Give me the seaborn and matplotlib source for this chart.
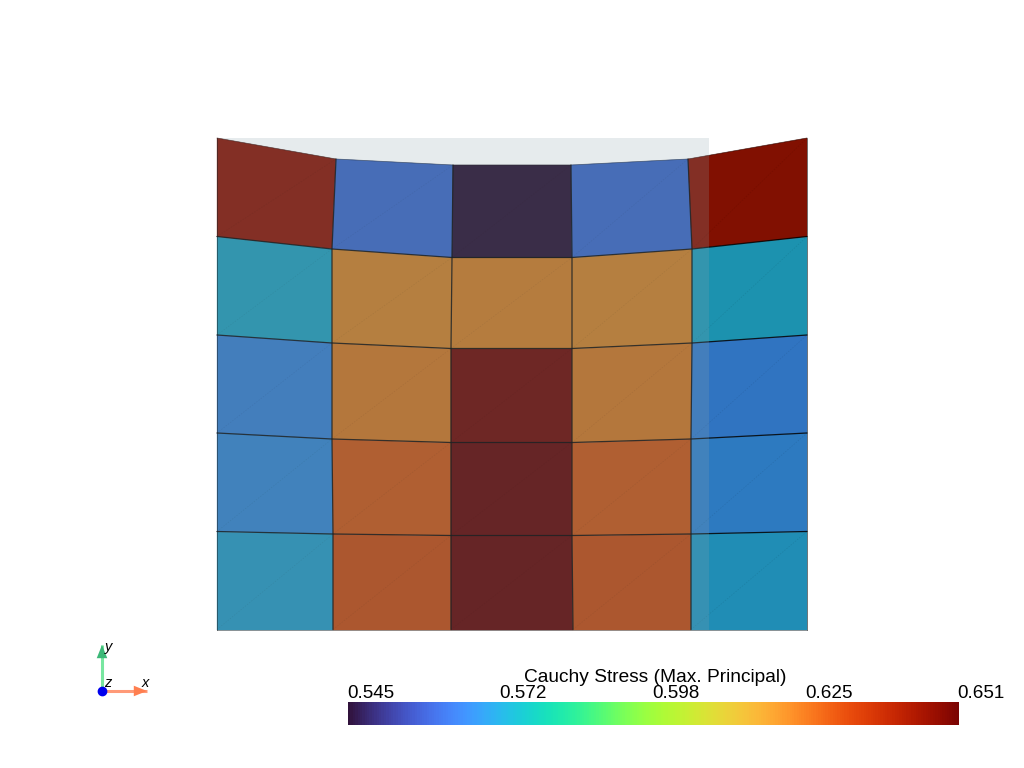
import numpy as np
import matplotlib
matplotlib.use("Agg")
import matplotlib.pyplot as plt
from matplotlib.colors import ListedColormap
import seaborn as sns

# Mesh node positions, one row per node layer from the top surface down
node_x = [
    [217, 336, 453, 571, 688, 807],
    [217, 332, 452, 572, 692, 807],
    [217, 332, 451, 572, 692, 807],
    [217, 332, 451, 572, 691, 807],
    [217, 333, 451, 572, 691, 807],
    [217, 333, 451, 573, 691, 807],
]
node_y = [
    [138, 159, 165, 165, 159, 138],
    [236.5, 249, 257.5, 257.5, 249, 236.5],
    [335, 343, 348.5, 348.5, 343, 335],
    [433, 439, 442.5, 442.5, 439, 433],
    [531.5, 534, 535.5, 535.5, 534, 531.5],
    [629.5, 629.5, 629.5, 629.5, 629.5, 629.5],
]

# Max. principal Cauchy stress per element
cell_stress = [
    [0.6445, 0.5615, 0.5450, 0.5615, 0.6445],
    [0.5725, 0.6205, 0.6215, 0.6205, 0.5725],
    [0.5660, 0.6225, 0.6490, 0.6225, 0.5660],
    [0.5670, 0.6280, 0.6510, 0.6280, 0.5670],
    [0.5712, 0.6302, 0.6510, 0.6302, 0.5712],
]

stress_min, stress_max = 0.545, 0.651
tick_labels = ["0.545", "0.572", "0.598", "0.625", "0.651"]
bar_title = "Cauchy Stress (Max. Principal)"

surface_light = 0.76
plane_rect = (217, 138, 492, 492)
plane_rgb = (140 / 255, 164 / 255, 174 / 255)
plane_alpha = 0.21

sns.set_theme(style="white")
plt.rcParams["font.family"] = ["Liberation Sans", "DejaVu Sans"]

turbo = sns.color_palette("turbo", as_cmap=True)
samples = turbo(np.linspace(0, 1, 256))
samples[:, :3] *= surface_light
lit_turbo = ListedColormap(samples)

fig = plt.figure(figsize=(10.24, 7.68), dpi=100, facecolor="white")
ax = fig.add_axes([0, 0, 1, 1])
ax.set_xlim(0, 1024)
ax.set_ylim(768, 0)
ax.axis("off")

X = np.array(node_x, dtype=float)
Y = np.array(node_y, dtype=float)
ax.pcolormesh(X, Y, np.array(cell_stress), cmap=lit_turbo, vmin=stress_min,
              vmax=stress_max, edgecolors="face", linewidth=0.2,
              antialiased=True, zorder=1)

# Element edges: interior lines are crisp, the outer boundary much softer
n_rows, n_cols = X.shape
for i in range(n_rows):
    outer = i in (0, n_rows - 1)
    ax.plot(X[i], Y[i], color="black", lw=0.6 if outer else 0.9,
            alpha=0.45 if outer else 0.85, zorder=2)
for j in range(n_cols):
    outer = j in (0, n_cols - 1)
    ax.plot(X[:, j], Y[:, j], color="black", lw=0.6 if outer else 0.9,
            alpha=0.6 if outer else 0.85, zorder=2)

# Faint triangle seams across each quad
for i in range(n_rows - 1):
    for j in range(n_cols - 1):
        ax.plot([X[i + 1, j], X[i, j + 1]], [Y[i + 1, j], Y[i, j + 1]],
                color="black", lw=0.5, ls=(0, (2, 2)), alpha=0.09, zorder=2)

# Translucent slicing plane in front of the mesh
ax.add_patch(plt.Rectangle(plane_rect[:2], plane_rect[2], plane_rect[3],
                           facecolor=plane_rgb, alpha=plane_alpha,
                           edgecolor="none", zorder=3))

# Orientation triad
origin = (102, 691)
for tip, shaft, head in [((147, 691), "#ff9a78", "#ff7f50"),
                         ((102, 645), "#78e6a0", "#3cb878")]:
    ax.plot([origin[0], tip[0]], [origin[1], tip[1]], color=shaft, lw=2.2,
            solid_capstyle="butt", zorder=4)
    ax.annotate("", xy=tip, xytext=((origin[0] + tip[0] * 3) / 4, (origin[1] + tip[1] * 3) / 4),
                arrowprops=dict(arrowstyle="-|>,head_length=0.5,head_width=0.2",
                                color=head, lw=0, mutation_scale=19,
                                shrinkA=0, shrinkB=0), zorder=5)
ax.scatter(*origin, s=36, color="#0000ee", zorder=6)
for label, pos in [("x", (145, 683)), ("y", (109, 647)), ("z", (108, 683))]:
    ax.text(*pos, label, fontsize=10.5, style="italic", color="black",
            ha="center", va="center", zorder=7)

# Scalar bar
cax = fig.add_axes([348 / 1024, 1 - 725 / 768, 611 / 1024, 23 / 768])
ramp = np.linspace(stress_min, stress_max, 256)[None, :]
sns.heatmap(ramp, ax=cax, cmap=turbo, vmin=stress_min, vmax=stress_max, cbar=False,
            xticklabels=False, yticklabels=False, rasterized=True)
cax.set_xlabel("")
cax.set_ylabel("")

# Labels sit at even quarters of the bar, left-aligned on each stop
label_stops = np.linspace(347, 957.5, len(tick_labels))
for px, text in zip(label_stops, tick_labels):
    ax.text(px, 702, text, fontsize=13.6, color="black", ha="left", va="bottom")
ax.text(655, 678, bar_title, fontsize=13.75, color="black", ha="center", va="center")

fig.savefig("out.png", dpi=100, facecolor="white")
